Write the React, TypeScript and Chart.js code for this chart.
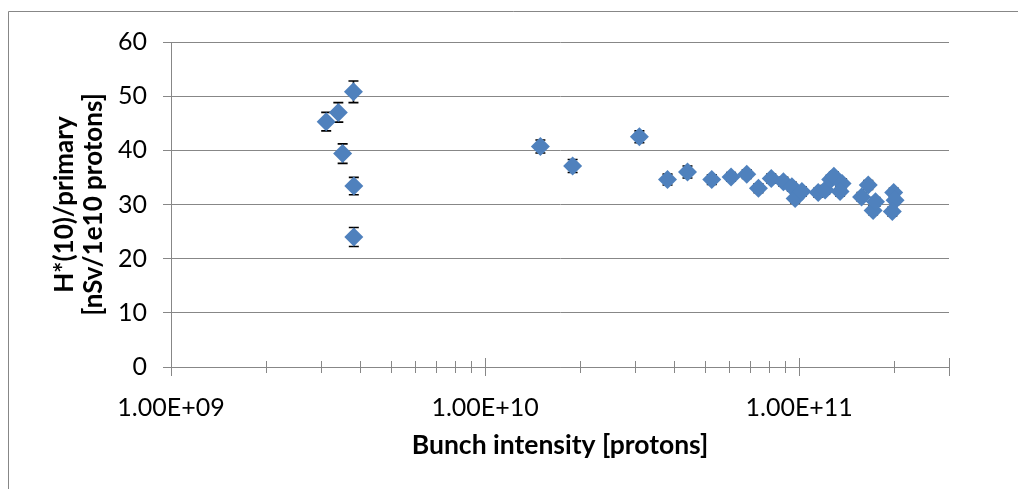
import React, { useEffect, useRef } from "react";
import { Chart, registerables } from "chart.js";

Chart.register(...registerables);

// Bunch intensity [protons]
const intensity = [
  3.12e9, 3.41e9, 3.81e9, 3.52e9, 3.82e9, 3.82e9,
  1.5e10, 1.9e10, 3.1e10, 3.81e10, 4.41e10,
  5.27e10, 6.07e10, 6.81e10, 7.42e10, 8.15e10, 8.91e10, 9.48e10, 9.71e10,
  1.02e11, 1.15e11, 1.21e11, 1.26e11, 1.29e11, 1.37e11, 1.35e11,
  1.58e11, 1.66e11, 1.72e11, 1.75e11, 2.0e11, 2.02e11, 1.98e11,
];
// H*(10)/primary [nSv/1e10 protons]
const dose = [
  45.3, 47.0, 50.8, 39.4, 33.4, 24.0,
  40.7, 37.1, 42.5, 34.6, 36.0,
  34.6, 35.1, 35.6, 33.0, 34.8, 34.2, 33.3, 31.1,
  32.4, 32.2, 32.7, 34.6, 35.2, 33.9, 32.4,
  31.4, 33.6, 28.9, 30.5, 32.2, 30.8, 28.7,
];
const doseError = [
  1.7, 1.8, 2.0, 1.8, 1.6, 1.75,
  1.2, 1.2, 1.1, 1.0, 1.1,
  0.9, 0.8, 0.8, 0.8, 0.8, 0.8, 0.8, 0.8,
  0.8, 0.8, 0.8, 0.8, 0.8, 0.8, 0.8,
  0.8, 0.8, 0.8, 0.8, 0.8, 0.8, 0.8,
];

const xTickValues = [
  1e9, 2e9, 3e9, 4e9, 5e9, 6e9, 7e9, 8e9, 9e9,
  1e10, 2e10, 3e10, 4e10, 5e10, 6e10, 7e10, 8e10, 9e10,
  1e11, 2e11, 3e11,
];
const xDecadeValues = [1e9, 1e10, 1e11];
const xDecadeLabels = ["1.00E+09", "1.00E+10", "1.00E+11"];
const xMin = 1e9;
const xMax = 3e11;
const yMin = 0;
const yMax = 60;
const yStep = 10;

const xTitle = "Bunch intensity [protons]";
const yTitle = ["H*(10)/primary", "[nSv/1e10 protons]"];

const FONT = "Lato, 'Open Sans', sans-serif";
const GRAY = "#878787";
const BLUE = "#4F81BD";

const errorBarPlugin = {
  id: "errorBars",
  beforeDatasetsDraw(chart: any) {
    const ctx = chart.ctx;
    const yScale = chart.scales.y;
    const meta = chart.getDatasetMeta(0);
    ctx.save();
    ctx.strokeStyle = "#000000";
    ctx.lineWidth = 1.6;
    meta.data.forEach((pt: any, i: number) => {
      const x = pt.x;
      const top = yScale.getPixelForValue(dose[i] + doseError[i]);
      const bot = yScale.getPixelForValue(dose[i] - doseError[i]);
      ctx.beginPath();
      ctx.moveTo(x, top);
      ctx.lineTo(x, bot);
      ctx.moveTo(x - 5, top);
      ctx.lineTo(x + 5, top);
      ctx.moveTo(x - 5, bot);
      ctx.lineTo(x + 5, bot);
      ctx.stroke();
    });
    ctx.restore();
  },
};

const frameAndTicksPlugin = {
  id: "frameAndTicks",
  beforeDraw(chart: any) {
    const ctx = chart.ctx;
    ctx.save();
    ctx.strokeStyle = GRAY;
    ctx.lineWidth = 1;
    ctx.beginPath();
    ctx.moveTo(8.5, chart.height);
    ctx.lineTo(8.5, 11.5);
    ctx.lineTo(chart.width, 11.5);
    ctx.stroke();
    ctx.restore();
  },
  afterDraw(chart: any) {
    const ctx = chart.ctx;
    const xs = chart.scales.x;
    const bottom = chart.chartArea.bottom;
    ctx.save();
    ctx.strokeStyle = GRAY;
    ctx.lineWidth = 1;
    xs.ticks.forEach((t: any) => {
      const major = xDecadeValues.includes(t.value) || t.value === xMax;
      const len = major ? 9 : 6;
      const px = Math.round(xs.getPixelForValue(t.value)) + 0.5;
      ctx.beginPath();
      ctx.moveTo(px, bottom - len);
      ctx.lineTo(px, bottom + len);
      ctx.stroke();
    });
    ctx.restore();
  },
};

export default function App() {
  const canvasRef = useRef<HTMLCanvasElement | null>(null);

  useEffect(() => {
    if (!canvasRef.current) return;
    const points = intensity.map((x, i) => ({ x, y: dose[i] }));
    const chart = new Chart(canvasRef.current, {
      type: "scatter",
      data: {
        datasets: [
          {
            data: points,
            backgroundColor: BLUE,
            borderWidth: 0,
            pointStyle: "rectRot",
            pointRadius: 9.5,
            pointHoverRadius: 9.5,
          },
        ],
      },
      options: {
        responsive: false,
        animation: false,
        devicePixelRatio: 1,
        events: [],
        layout: { padding: { left: 0, right: 69, top: 42, bottom: 0 } },
        plugins: {
          legend: { display: false },
          tooltip: { enabled: false },
        },
        scales: {
          x: {
            type: "logarithmic",
            min: xMin,
            max: xMax,
            afterBuildTicks: (scale: any) => {
              scale.ticks = xTickValues.map((v) => ({ value: v }));
            },
            afterFit: (scale: any) => {
              scale.height = 122;
            },
            grid: {
              drawOnChartArea: false,
              drawTicks: false,
              tickLength: 0,
            },
            border: { display: true, color: GRAY, width: 1 },
            ticks: {
              autoSkip: false,
              maxRotation: 0,
              minRotation: 0,
              padding: 26,
              color: "#000000",
              font: { family: FONT, size: 25 },
              callback: (value: any) => {
                const i = xDecadeValues.indexOf(Number(value));
                return i >= 0 ? xDecadeLabels[i] : "";
              },
            },
            title: {
              display: true,
              text: xTitle,
              color: "#000000",
              font: { family: FONT, size: 26.5, weight: "bold" },
              padding: { top: 0, bottom: 28 },
            },
          },
          y: {
            min: yMin,
            max: yMax,
            afterFit: (scale: any) => {
              scale.width = 171;
            },
            grid: {
              color: GRAY,
              lineWidth: 1,
              drawTicks: true,
              tickLength: 8,
            },
            border: { display: true, color: GRAY, width: 1 },
            ticks: {
              stepSize: yStep,
              padding: 16,
              color: "#000000",
              font: { family: FONT, size: 25 },
            },
            title: {
              display: true,
              text: yTitle,
              color: "#000000",
              font: { family: FONT, size: 26, weight: "bold", lineHeight: 1.12 },
              padding: { top: 50, bottom: 0 },
            },
          },
        },
      },
      plugins: [frameAndTicksPlugin, errorBarPlugin],
    });
    return () => chart.destroy();
  }, []);

  return (
    <div
      style={{
        position: "fixed",
        left: 0,
        top: 0,
        width: 1018,
        height: 489,
        overflow: "hidden",
        background: "#ffffff",
      }}
    >
      <canvas ref={canvasRef} width={1018} height={489} style={{ display: "block" }} />
    </div>
  );
}
